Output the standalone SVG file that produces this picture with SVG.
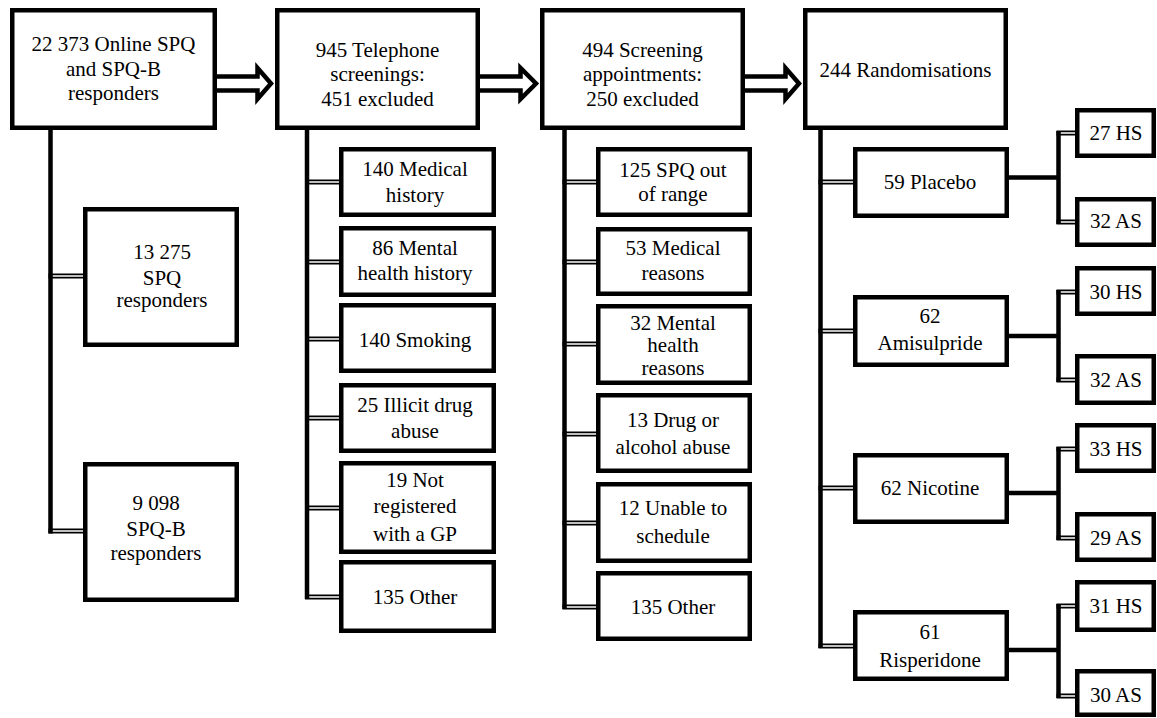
<svg xmlns="http://www.w3.org/2000/svg" width="1157" height="718" viewBox="0 0 1157 718" font-family="Liberation Serif, Times New Roman, serif">
<style>
.box{fill:#fff;stroke:#000;stroke-width:4.5}
text{font-size:21px;fill:#000;text-anchor:middle}
.trunk{fill:none;stroke:#000;stroke-width:4.5}
.dbl{stroke:#000;stroke-width:4.8;fill:none}
.dblw{stroke:#fff;stroke-width:1.6;fill:none}
.arrow{fill:#fff;stroke:#000;stroke-width:4.5;stroke-linejoin:miter;stroke-miterlimit:10}
</style>
<rect width="1157" height="718" fill="#fff"/>
<g id="connectors">
<path class="trunk" d="M50.5,128 V533.5 M307,128 V599 M564.5,128 V609 M820.5,128 V648"/>
<path class="trunk" d="M1007,177.5 H1058.5 M1058.5,131 V224 M1007,336 H1058.5 M1058.5,290 V382 M1007,493 H1058.5 M1058.5,447 V540 M1007,650 H1058.5 M1058.5,604 V698"/>
<path class="dbl" d="M48.5,276 H85 M48.5,531 H85 M305,182 H341 M305,262 H341 M305,339 H341 M305,418 H341 M305,508 H341 M305,597 H341 M562.5,182 H598 M562.5,262 H598 M562.5,344 H598 M562.5,434 H598 M562.5,523 H598 M562.5,607 H598 M818.5,182 H855 M818.5,331 H855 M818.5,488 H855 M818.5,646 H855 M1056.5,133 H1077 M1056.5,222 H1077 M1056.5,292 H1077 M1056.5,380 H1077 M1056.5,449 H1077 M1056.5,538 H1077 M1056.5,606 H1077 M1056.5,696 H1077"/>
<path class="dblw" d="M52.8,276 H84 M52.8,531 H84 M309.3,182 H340 M309.3,262 H340 M309.3,339 H340 M309.3,418 H340 M309.3,508 H340 M309.3,597 H340 M566.8,182 H597 M566.8,262 H597 M566.8,344 H597 M566.8,434 H597 M566.8,523 H597 M566.8,607 H597 M822.8,182 H854 M822.8,331 H854 M822.8,488 H854 M822.8,646 H854 M1060.8,133 H1076 M1060.8,222 H1076 M1060.8,292 H1076 M1060.8,380 H1076 M1060.8,449 H1076 M1060.8,538 H1076 M1060.8,606 H1076 M1060.8,696 H1076"/>
<path class="arrow" d="M215,76.5 H257.5 V68 L271,83.5 L257.5,99 V90.5 H215"/>
<path class="arrow" d="M478,76.5 H520.5 V68 L536,83.5 L520.5,99 V90.5 H478"/>
<path class="arrow" d="M743,76.5 H785.5 V68 L799,83.5 L785.5,99 V90.5 H743"/>
</g>
<g id="n_online"><rect class="box" x="12.25" y="10.25" width="202.5" height="117.5"/><text x="113.5" y="50.5">22 373 Online SPQ</text><text x="113.5" y="75.5">and SPQ-B</text><text x="113.5" y="100">responders</text></g>
<g id="n_tel"><rect class="box" x="277.25" y="10.25" width="200.5" height="117.5"/><text x="377.5" y="57">945 Telephone</text><text x="377.5" y="81">screenings:</text><text x="377.5" y="106">451 excluded</text></g>
<g id="n_screen"><rect class="box" x="542.25" y="10.25" width="200.5" height="117.5"/><text x="642.5" y="57">494 Screening</text><text x="642.5" y="81">appointments:</text><text x="642.5" y="106">250 excluded</text></g>
<g id="n_rand"><rect class="box" x="805.25" y="10.25" width="200.5" height="117.5"/><text x="905.5" y="77">244 Randomisations</text></g>
<g id="n_spq"><rect class="box" x="85.25" y="209.25" width="151.5" height="135.5"/><text x="162" y="259">13 275</text><text x="162" y="285">SPQ</text><text x="162" y="307">responders</text></g>
<g id="n_spqb"><rect class="box" x="85.25" y="464.25" width="151.5" height="135.5"/><text x="156" y="510">9 098</text><text x="156" y="536">SPQ-B</text><text x="156" y="560">responders</text></g>
<g id="t_med"><rect class="box" x="341.25" y="149.25" width="152.5" height="65.5"/><text x="415" y="175.5">140 Medical</text><text x="415" y="201.5">history</text></g>
<g id="t_mental"><rect class="box" x="341.25" y="228.25" width="152.5" height="66.5"/><text x="415" y="255">86 Mental</text><text x="415" y="280">health history</text></g>
<g id="t_smoke"><rect class="box" x="341.25" y="305.25" width="152.5" height="65.5"/><text x="415" y="347">140 Smoking</text></g>
<g id="t_drug"><rect class="box" x="341.25" y="385.25" width="152.5" height="65.5"/><text x="415" y="412">25 Illicit drug</text><text x="415" y="438">abuse</text></g>
<g id="t_gp"><rect class="box" x="341.25" y="463.25" width="152.5" height="88.5"/><text x="415" y="487">19 Not</text><text x="415" y="513">registered</text><text x="415" y="541">with a GP</text></g>
<g id="t_other"><rect class="box" x="341.25" y="562.25" width="152.5" height="68.5"/><text x="415" y="604">135 Other</text></g>
<g id="s_spq"><rect class="box" x="598.25" y="149.25" width="151.5" height="65.5"/><text x="673" y="177">125 SPQ out</text><text x="673" y="201">of range</text></g>
<g id="s_med"><rect class="box" x="598.25" y="229.25" width="151.5" height="64.5"/><text x="673" y="255">53 Medical</text><text x="673" y="280">reasons</text></g>
<g id="s_mental"><rect class="box" x="598.25" y="306.25" width="151.5" height="76.5"/><text x="673" y="330">32 Mental</text><text x="673" y="352">health</text><text x="673" y="375">reasons</text></g>
<g id="s_drug"><rect class="box" x="598.25" y="395.25" width="151.5" height="75.5"/><text x="673" y="427">13 Drug or</text><text x="673" y="454">alcohol abuse</text></g>
<g id="s_sched"><rect class="box" x="598.25" y="484.25" width="151.5" height="76.5"/><text x="673" y="515">12 Unable to</text><text x="673" y="543">schedule</text></g>
<g id="s_other"><rect class="box" x="598.25" y="573.25" width="151.5" height="65.5"/><text x="673" y="614">135 Other</text></g>
<g id="r_placebo"><rect class="box" x="855.25" y="149.25" width="151.5" height="66.5"/><text x="930" y="189">59 Placebo</text></g>
<g id="r_amis"><rect class="box" x="855.25" y="297.25" width="151.5" height="67.5"/><text x="930" y="323">62</text><text x="930" y="350">Amisulpride</text></g>
<g id="r_nic"><rect class="box" x="855.25" y="455.25" width="151.5" height="66.5"/><text x="930" y="495">62 Nicotine</text></g>
<g id="r_risp"><rect class="box" x="855.25" y="612.25" width="151.5" height="66.5"/><text x="930" y="639">61</text><text x="930" y="667">Risperidone</text></g>
<g id="g_p_hs"><rect class="box" x="1077.25" y="110.25" width="76.5" height="45.5"/><text x="1116" y="140">27 HS</text></g>
<g id="g_p_as"><rect class="box" x="1077.25" y="199.25" width="76.5" height="45.5"/><text x="1116" y="228">32 AS</text></g>
<g id="g_a_hs"><rect class="box" x="1077.25" y="268.25" width="76.5" height="45.5"/><text x="1116" y="299">30 HS</text></g>
<g id="g_a_as"><rect class="box" x="1077.25" y="356.25" width="76.5" height="46.5"/><text x="1116" y="387">32 AS</text></g>
<g id="g_n_hs"><rect class="box" x="1077.25" y="425.25" width="76.5" height="45.5"/><text x="1116" y="456">33 HS</text></g>
<g id="g_n_as"><rect class="box" x="1077.25" y="514.25" width="76.5" height="45.5"/><text x="1116" y="545">29 AS</text></g>
<g id="g_r_hs"><rect class="box" x="1077.25" y="582.25" width="76.5" height="47.5"/><text x="1116" y="613">31 HS</text></g>
<g id="g_r_as"><rect class="box" x="1077.25" y="671.25" width="76.5" height="43.5"/><text x="1116" y="702">30 AS</text></g>
</svg>
